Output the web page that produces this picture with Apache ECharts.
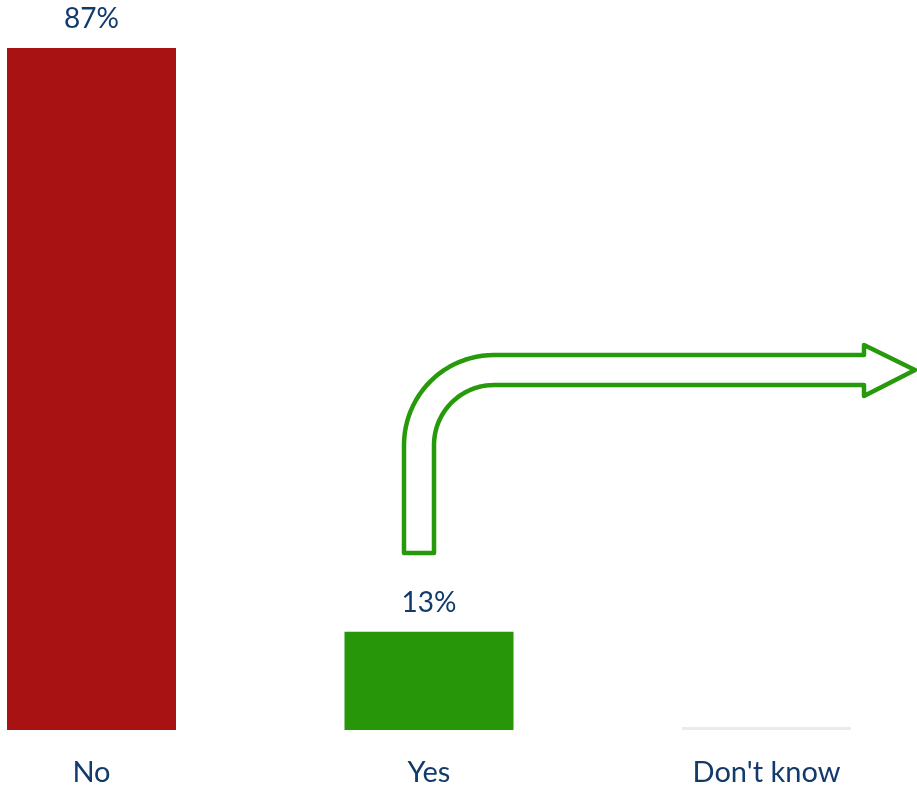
<!DOCTYPE html>
<html>
<head>
<meta charset="utf-8">
<script src="https://cdn.jsdelivr.net/npm/echarts@6/dist/echarts.min.js"></script>
<style>html,body{margin:0;padding:0;background:#fff;}#c{width:917px;height:789px;}</style>
</head>
<body>
<div id="c"></div>
<script>
const categories = ["No", "Yes", "Don't know"];
const values = [87.4, 12.6, 0];
const barColors = ["#A81213", "#279608", "#EBEBEB"];

// decorative bent arrow outline
function arrowPoints() {
  const pts = [];
  const cx = 494, cy = 445;
  pts.push([404, 553]);
  for (let i = 0; i <= 24; i++) {
    const a = Math.PI + (Math.PI / 2) * (i / 24);
    pts.push([cx + 90 * Math.cos(a), cy + 90 * Math.sin(a)]);
  }
  pts.push([864, 355], [864, 345], [915, 370], [864, 396], [864, 385]);
  for (let i = 0; i <= 24; i++) {
    const a = 1.5 * Math.PI - (Math.PI / 2) * (i / 24);
    pts.push([cx + 60 * Math.cos(a), cy + 60 * Math.sin(a)]);
  }
  pts.push([434, 553]);
  return pts;
}

const chart = echarts.init(document.getElementById('c'));
chart.setOption({
  animation: false,
  backgroundColor: '#ffffff',
  grid: { left: 91.5, right: 150.5, top: 48, bottom: 59, containLabel: false },
  xAxis: {
    type: 'category',
    data: categories,
    boundaryGap: false,
    axisLine: { show: false },
    axisTick: { show: false },
    axisLabel: { color: '#123A6B', fontFamily: 'Lato', fontSize: 29, margin: 28 }
  },
  yAxis: { type: 'value', min: 0, max: 87.4, show: false, splitLine: { show: false } },
  series: [{
    type: 'bar',
    barWidth: 169,
    barMinHeight: 3,
    data: values.map((v, i) => ({ value: v, itemStyle: { color: barColors[i] } })),
    label: {
      show: true,
      position: 'top',
      distance: 15,
      color: '#123A6B',
      fontFamily: 'Lato',
      fontSize: 28,
      formatter: p => p.value > 0 ? Math.round(p.value) + '%' : ''
    }
  }],
  graphic: [{
    type: 'polygon',
    shape: { points: arrowPoints() },
    style: { fill: '#ffffff', stroke: '#279A0B', lineWidth: 4.5, lineJoin: 'round' },
    z: 10
  }]
});
</script>
</body>
</html>
